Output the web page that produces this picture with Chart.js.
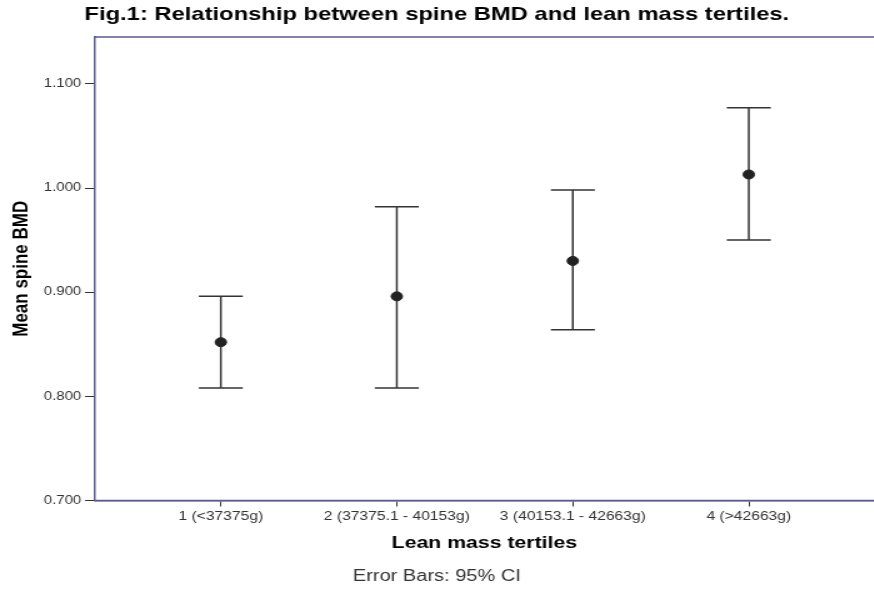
<!DOCTYPE html>
<html>
<head>
<meta charset="utf-8">
<script src="https://cdn.jsdelivr.net/npm/chart.js@4"></script>
<style>
    body { margin: 0; background: #fff; }
    #wrap { width: 874px; height: 591px; overflow: hidden; }
    /* the reference is stretched sideways, so the canvas is too */
    #chart { transform: scaleX(1.25); transform-origin: 0 0; }
</style>
</head>
<body>
<div id="wrap"><canvas id="chart" width="699" height="591"></canvas></div>
<script>
"use strict";

const categories = ['1 (<37375g)', '2 (37375.1 - 40153g)', '3 (40153.1 - 42663g)', '4 (>42663g)'];
const means = [0.852, 0.896, 0.930, 1.013];
const ciLower = [0.808, 0.808, 0.864, 0.950];
const ciUpper = [0.896, 0.982, 0.998, 1.077];
const yTicks = [0.7, 0.8, 0.9, 1.0, 1.1];

const axisColor = '#5a5a96';
const inkColor = '#333333';
const fontFamily = "'Liberation Sans', Arial, sans-serif";

// error bars: vertical line plus caps, drawn under the points
const errorBarsPlugin = {
    id: 'errorBars',
    beforeDatasetsDraw: function (chart) {
        const ctx = chart.ctx;
        const xs = chart.scales.x;
        const ys = chart.scales.y;
        const cap = 17.6;
        ctx.save();
        ctx.strokeStyle = inkColor;
        ctx.lineWidth = 1.5;
        for (let i = 0; i < means.length; i++) {
            const x = xs.getPixelForValue(i + 1);
            const yLo = ys.getPixelForValue(ciLower[i]);
            const yHi = ys.getPixelForValue(ciUpper[i]);
            ctx.beginPath();
            ctx.moveTo(x, yLo);
            ctx.lineTo(x, yHi);
            ctx.moveTo(x - cap, yLo);
            ctx.lineTo(x + cap, yLo);
            ctx.moveTo(x - cap, yHi);
            ctx.lineTo(x + cap, yHi);
            ctx.stroke();
        }
        ctx.restore();
    }
};

// top and bottom frame lines run to the right edge, plus the footnote
const framePlugin = {
    id: 'frame',
    afterDraw: function (chart) {
        const ctx = chart.ctx;
        const area = chart.chartArea;
        ctx.save();
        ctx.strokeStyle = axisColor;
        ctx.lineWidth = 1.5;
        ctx.beginPath();
        ctx.moveTo(area.left, area.top);
        ctx.lineTo(chart.width, area.top);
        ctx.moveTo(area.left, area.bottom);
        ctx.lineTo(chart.width, area.bottom);
        ctx.stroke();

        ctx.fillStyle = inkColor;
        ctx.font = '16px ' + fontFamily;
        ctx.textAlign = 'center';
        ctx.textBaseline = 'middle';
        ctx.fillText('Error Bars: 95% CI', chart.width / 2, 577);
        ctx.restore();
    }
};

const points = [];
for (let i = 0; i < means.length; i++) {
    points.push({ x: i + 1, y: means[i] });
}

new Chart(document.getElementById('chart'), {
    type: 'scatter',
    data: {
        datasets: [{
            data: points,
            backgroundColor: '#222222',
            borderColor: '#222222',
            pointRadius: 4.5,
            pointHoverRadius: 4.5
        }]
    },
    options: {
        responsive: false,
        animation: false,
        devicePixelRatio: 1,
        layout: { autoPadding: false, padding: { left: 0, right: 0, top: 0, bottom: 30 } },
        plugins: {
            legend: { display: false },
            tooltip: { enabled: false },
            title: {
                display: true,
                text: 'Fig.1: Relationship between spine BMD and lean mass tertiles.',
                color: '#000',
                font: { family: fontFamily, size: 19, weight: 'bold' },
                padding: { top: 3, bottom: 11.2 }
            }
        },
        scales: {
            x: {
                type: 'linear',
                min: 0.285,
                max: 4.71,
                border: { color: axisColor, width: 1.5 },
                grid: { drawOnChartArea: false, drawTicks: true, tickLength: 6, color: inkColor },
                ticks: {
                    color: inkColor,
                    font: { family: fontFamily, size: 12.5 },
                    padding: 3,
                    maxRotation: 0,
                    autoSkip: false,
                    callback: function (v) { return categories[v - 1]; }
                },
                afterBuildTicks: function (axis) {
                    axis.ticks = categories.map(function (c, i) { return { value: i + 1 }; });
                },
                afterFit: function (axis) { axis.height = 60.5; },
                title: {
                    display: true,
                    text: 'Lean mass tertiles',
                    color: '#000',
                    font: { family: fontFamily, size: 17, weight: 'bold' },
                    padding: { top: 4, bottom: 7.3 }
                }
            },
            y: {
                min: 0.7,
                max: 1.145,
                border: { color: axisColor, width: 1.5 },
                grid: { drawOnChartArea: false, drawTicks: true, tickLength: 8, color: inkColor },
                ticks: {
                    color: inkColor,
                    font: { family: fontFamily, size: 12 },
                    padding: 3,
                    callback: function (v) { return v.toFixed(3); }
                },
                afterBuildTicks: function (axis) {
                    axis.ticks = yTicks.map(function (v) { return { value: v }; });
                },
                afterFit: function (axis) { axis.width = 76; },
                title: {
                    display: true,
                    text: 'Mean spine BMD',
                    color: '#000',
                    font: { family: fontFamily, size: 17, weight: 'bold' },
                    padding: { top: 7.2, bottom: 4 }
                }
            }
        }
    },
    plugins: [errorBarsPlugin, framePlugin]
});
</script>
</body>
</html>
